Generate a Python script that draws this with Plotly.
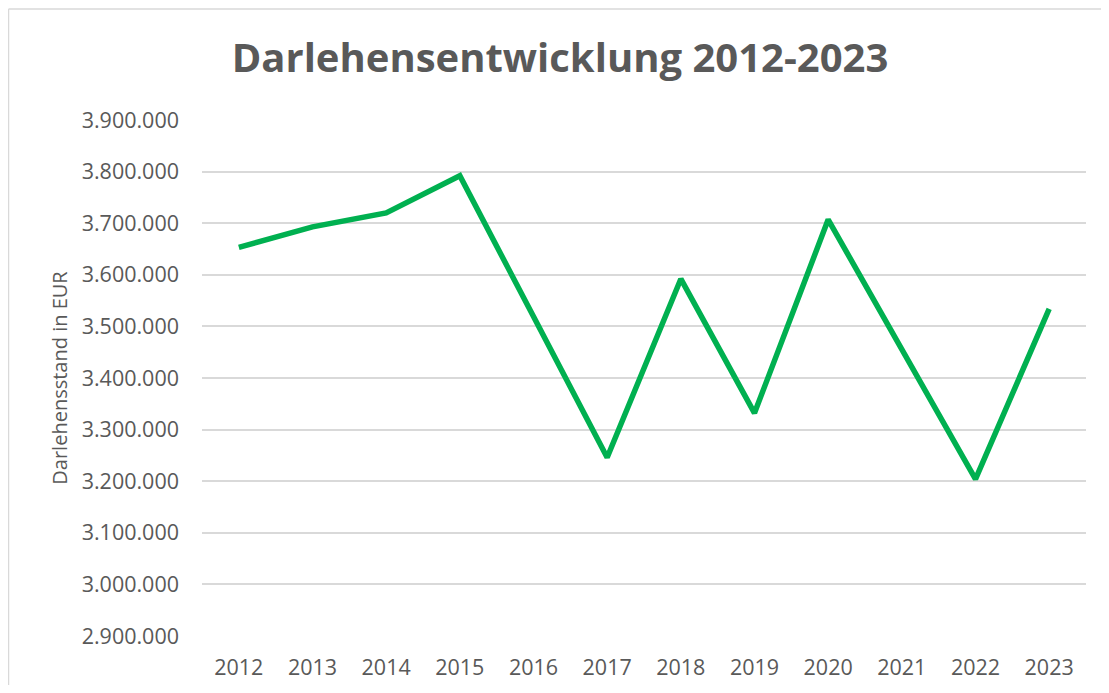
import plotly.graph_objects as go

years = ["2012", "2013", "2014", "2015", "2016", "2017", "2018", "2019", "2020", "2021", "2022", "2023"]
darlehen = [3653000, 3693000, 3720000, 3792000, 3519000, 3246000, 3592000, 3332000, 3707000, 3455000, 3204000, 3534000]
tick_vals = [2900000, 3000000, 3100000, 3200000, 3300000, 3400000, 3500000, 3600000, 3700000, 3800000, 3900000]
tick_text = ["2.900.000", "3.000.000", "3.100.000", "3.200.000", "3.300.000", "3.400.000",
             "3.500.000", "3.600.000", "3.700.000", "3.800.000", "3.900.000"]

# page body has an 8px margin; figure coordinates = reference coordinates - 8
OFF = 8
W, H = 1109 - 2 * OFF, 693 - 2 * OFF
ml = 202 - OFF
mr = W - (1086 - OFF)
mt = 120 - OFF
mb = H - (636 - OFF)
pw, ph = W - ml - mr, H - mt - mb

fig = go.Figure()
fig.add_trace(go.Scatter(
    x=years, y=darlehen, mode="lines",
    line=dict(color="#00b050", width=5.5),
    hoverinfo="x+y", showlegend=False,
))

fig.update_layout(
    width=W, height=H,
    margin=dict(l=ml, r=mr, t=mt, b=mb, autoexpand=False),
    paper_bgcolor="white", plot_bgcolor="white",
    font=dict(family="Open Sans, sans-serif", color="#595959", size=21),
    title=dict(text="<b>Darlehensentwicklung 2012-2023</b>", x=(560 - OFF - ml) / pw, xref="paper",
               xanchor="center", y=1 - (58 - OFF) / H, yanchor="middle",
               font=dict(size=40, color="#595959", family="Open Sans, sans-serif")),
    xaxis=dict(type="category", range=[-0.5, 11.5], showgrid=False, zeroline=False, showline=False,
               automargin=False,
               ticks="", tickfont=dict(size=21.5, color="#595959"), ticklabelstandoff=16),
    yaxis=dict(range=[2900000, 3900000], tickvals=tick_vals, ticktext=tick_text,
               showgrid=True, gridcolor="#d9d9d9", gridwidth=1.5, zeroline=False,
               showline=False, ticks="", tickfont=dict(size=21.5, color="#595959"),
               ticklabelstandoff=22, automargin=False,
               title=dict(text="Darlehensstand in EUR", font=dict(size=20, color="#595959"),
                          standoff=8)),
    shapes=[
        dict(type="line", xref="paper", yref="paper",
             x0=(0.5 - ml) / pw, x1=(W + 30 - ml) / pw,
             y0=(H - mb - 1) / ph, y1=(H - mb - 1) / ph,
             line=dict(color="#d9d9d9", width=1.5), layer="below"),
        dict(type="line", xref="paper", yref="paper",
             x0=(0.5 - ml) / pw, x1=(0.5 - ml) / pw,
             y0=-0.3, y1=(H - mb - 1) / ph,
             line=dict(color="#d9d9d9", width=1.5), layer="below"),
    ],
)

fig.write_html("out.html")
